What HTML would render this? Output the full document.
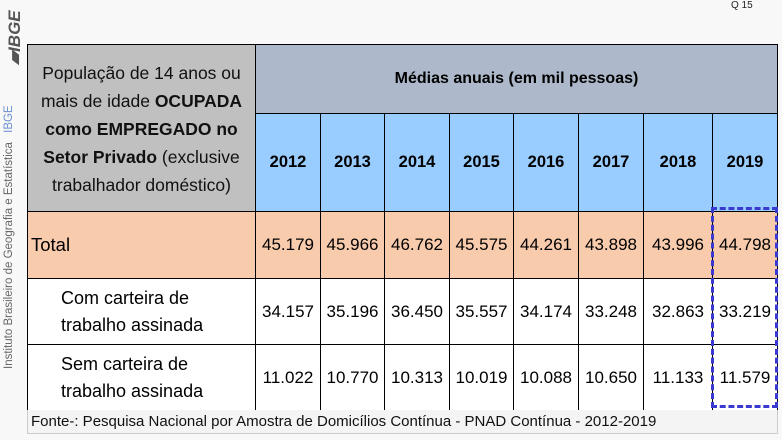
<!DOCTYPE html>
<html><head><meta charset="utf-8"><style>
body{margin:0;width:782px;height:440px;background:#f8f8f8;position:relative;overflow:hidden;font-family:"Liberation Sans",sans-serif;}
.abs{position:absolute;box-sizing:border-box;}
.c{display:flex;align-items:center;justify-content:center;text-align:center;}
.b{border:1px solid #000;}
</style></head><body>
<div class="abs" style="left:731px;top:0;font-size:10px;color:#222">Q 15</div>
<div class="abs" style="left:-10px;top:30px;width:50px;height:20px;transform:rotate(-90deg);font-weight:bold;font-style:italic;font-size:17px;color:#555;text-align:center">▰IBGE</div>
<div class="abs" style="left:-120px;top:232px;width:260px;height:14px;transform:rotate(-90deg);font-size:11.5px;color:#666;white-space:nowrap;text-align:center">Instituto Brasileiro de Geografia e Estatística <span style="color:#6b8fd0;margin-left:6px">IBGE</span></div>
<div id="t"></div>
<div class="abs" style="left:27px;top:410px;width:751px;height:24px;border:1px solid #ccc;border-top:none;background:#f4f4f4;font-size:15px;padding:3px 0 0 3px;color:#111">Fonte-: Pesquisa Nacional por Amostra de Domicílios Contínua - PNAD Contínua - 2012-2019</div>
<div class="abs" style="left:711px;top:207px;width:67px;height:201px;border:3px dashed #3a3ad0"></div>
<script>
const years=["2012","2013","2014","2015","2016","2017","2018","2019"];
const total=["45.179","45.966","46.762","45.575","44.261","43.898","43.996","44.798"];
const com=["34.157","35.196","36.450","35.557","34.174","33.248","32.863","33.219"];
const sem=["11.022","10.770","10.313","10.019","10.088","10.650","11.133","11.579"];
const xs=[255,320,384,449,513,578,643,712,777];
const t=document.getElementById('t');
function cell(x,y,w,h,html,bg,css,name){const d=document.createElement('div');d.className='abs c b';d.style.cssText=`left:${x}px;top:${y}px;width:${w+1}px;height:${h+1}px;background:${bg};${css||''}`;d.innerHTML=html;


t.appendChild(d);}
cell(27,44,228,169,'<div>População de 14 anos ou mais de idade <b>OCUPADA como EMPREGADO no Setor Privado</b> (exclusive trabalhador doméstico)</div>','#c0c0c0','font-size:17.5px;line-height:28px;padding:0 3px;color:#111','row-header-title');
cell(255,44,522,69,'<b>Médias anuais (em mil pessoas)</b>','#adb9ca','font-size:16px','header-medias');
const rows=[[211,67,'Total',total,'#f8cbad','justify-content:flex-start;padding-left:3px;font-size:18.5px'],[278,66,'Com carteira de<br>trabalho assinada',com,'#fff','justify-content:flex-start;text-align:left;padding-left:33px;font-size:18px;line-height:27px'],[344,66,'Sem carteira de<br>trabalho assinada',sem,'#fff','justify-content:flex-start;text-align:left;padding-left:33px;font-size:18px;line-height:27px']];
years.forEach((y,i)=>cell(xs[i],113,xs[i+1]-xs[i],98,'<b>'+y+'</b>','#99ccff','font-size:16.5px','year-'+y));
rows.forEach((r,ri)=>{cell(27,r[0],228,r[1],r[2],r[4],r[5],'row-label-'+ri);
r[3].forEach((v,i)=>cell(xs[i],r[0],xs[i+1]-xs[i],r[1],v,r[4],'font-size:17px','value-'+ri+'-'+years[i]));});
</script>
</body></html>
